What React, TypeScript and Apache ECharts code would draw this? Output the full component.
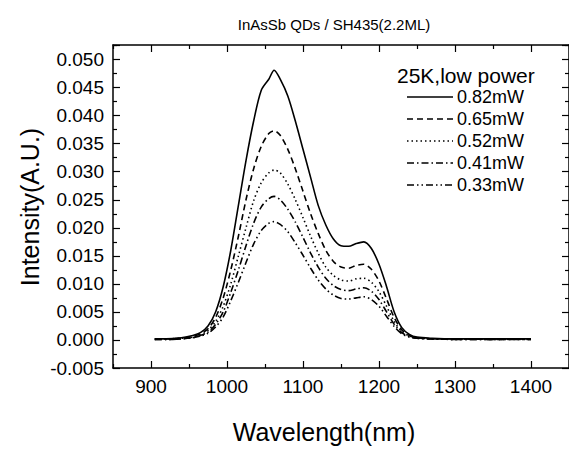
import React, { useEffect, useRef } from "react";
import * as echarts from "echarts";

const wavelengths = [905, 920, 940, 955, 965, 975, 985, 995, 1005, 1015, 1025, 1035, 1045, 1055, 1062, 1070, 1080, 1090, 1100, 1110, 1120, 1130, 1140, 1150, 1160, 1170, 1180, 1190, 1200, 1210, 1220, 1230, 1240, 1250, 1270, 1300, 1350, 1400];

const p082 = [0.0002, 0.0002, 0.0004, 0.0008, 0.0013, 0.0025, 0.005, 0.0095, 0.016, 0.024, 0.032, 0.039, 0.0445, 0.0465, 0.0481, 0.0465, 0.0435, 0.039, 0.034, 0.029, 0.024, 0.0205, 0.018, 0.0168, 0.0167, 0.0172, 0.0175, 0.0163, 0.0135, 0.0095, 0.005, 0.0022, 0.001, 0.0005, 0.0003, 0.0002, 0.0002, 0.0002];
const p065 = [0.0002, 0.0002, 0.0003, 0.0006, 0.0011, 0.002, 0.004, 0.0075, 0.0125, 0.0185, 0.025, 0.0305, 0.0345, 0.0368, 0.0373, 0.0365, 0.034, 0.0305, 0.0265, 0.0225, 0.019, 0.016, 0.014, 0.013, 0.0128, 0.0133, 0.0135, 0.0126, 0.0105, 0.0073, 0.004, 0.0018, 0.0008, 0.0004, 0.0002, 0.0002, 0.0001, 0.0002];
const p052 = [0.0001, 0.0002, 0.0003, 0.0005, 0.0009, 0.0017, 0.0033, 0.006, 0.01, 0.015, 0.02, 0.0248, 0.028, 0.0298, 0.0303, 0.0298, 0.0278, 0.025, 0.0218, 0.0185, 0.0155, 0.013, 0.0115, 0.0107, 0.0105, 0.0109, 0.011, 0.0103, 0.0086, 0.006, 0.0033, 0.0015, 0.0007, 0.0004, 0.0002, 0.0001, 0.0002, 0.0001];
const p041 = [0.0001, 0.0001, 0.0002, 0.0004, 0.0008, 0.0014, 0.0028, 0.005, 0.0085, 0.0125, 0.0168, 0.0208, 0.0237, 0.0252, 0.0256, 0.025, 0.0233, 0.021, 0.0183, 0.0155, 0.013, 0.011, 0.0097, 0.009, 0.0088, 0.0091, 0.0093, 0.0087, 0.0072, 0.005, 0.0028, 0.0013, 0.0006, 0.0003, 0.0002, 0.0001, 0.0001, 0.0001];
const p033 = [0.0001, 0.0001, 0.0002, 0.0004, 0.0007, 0.0012, 0.0023, 0.0041, 0.007, 0.0103, 0.0138, 0.0171, 0.0195, 0.0208, 0.0211, 0.0206, 0.0193, 0.0173, 0.0151, 0.0128, 0.0107, 0.0091, 0.008, 0.0074, 0.0073, 0.0075, 0.0077, 0.0072, 0.006, 0.0042, 0.0024, 0.0011, 0.0005, 0.0003, 0.0002, 0.0001, 0.0001, 0.0001];

const seriesNames = ["0.82mW", "0.65mW", "0.52mW", "0.41mW", "0.33mW"];
const seriesValues = [p082, p065, p052, p041, p033];
const dashes: (string | number[])[] = ["solid", [6, 4], [1.5, 3], [7, 3, 1.5, 3], [7, 3, 1.5, 3, 1.5, 3]];
const dashArrays: (number[] | null)[] = [null, [6, 4], [1.5, 3], [7, 3, 1.5, 3], [7, 3, 1.5, 3, 1.5, 3]];

const xTickLabels = [900, 1000, 1100, 1200, 1300, 1400];

const titleText = "InAsSb QDs / SH435(2.2ML)";
const legendTitle = "25K,low power";
const xTitle = "Wavelength(nm)";
const yTitle = "Intensity(A.U.)";

const FONT = "Liberation Sans, Arial, sans-serif";

export default function App() {
  const ref = useRef<HTMLDivElement>(null);
  useEffect(() => {
    if (!ref.current) return;
    const chart = echarts.init(ref.current, undefined, { renderer: "svg" });
    const lineStyle = { color: "#000", width: 1.5 };
    const tickStyle = { color: "#000", width: 1.2 };
    // x: regular ticks at 850,950,... (short); minor ticks halfway at 900,1000,... (long)
    const xCommon = {
      type: "value",
      min: 850,
      max: 1450,
      interval: 100,
      axisLine: { show: true, onZero: false, lineStyle },
      axisTick: { show: true, inside: true, length: 4, lineStyle: tickStyle },
      minorTick: { show: true, splitNumber: 2, length: 7, lineStyle: tickStyle },
      splitLine: { show: false },
    };
    const yCommon = {
      type: "value",
      min: -0.005,
      max: 0.0526,
      interval: 0.005,
      axisLine: { show: true, onZero: false, lineStyle },
      axisTick: { show: true, inside: true, length: 7, lineStyle: tickStyle },
      minorTick: { show: true, splitNumber: 2, length: 4, lineStyle: tickStyle },
      splitLine: { show: false },
    };
    const legendGraphics: any[] = [];
    seriesNames.forEach((name, i) => {
      const cy = 97 + i * 22;
      legendGraphics.push({
        type: "line",
        shape: { x1: 407, y1: cy, x2: 453, y2: cy },
        style: { stroke: "#000", lineWidth: 1.6, lineDash: dashArrays[i] || undefined },
      });
      legendGraphics.push({
        type: "text",
        x: 457,
        y: cy,
        style: { text: name, font: `18px ${FONT}`, fill: "#000", verticalAlign: "middle" },
      });
    });
    chart.setOption({
      animation: false,
      backgroundColor: "#fff",
      title: {
        text: titleText,
        left: 329,
        top: 12,
        textAlign: "center",
        textStyle: { fontFamily: FONT, fontSize: 15, fontWeight: "normal", color: "#000" },
      },
      grid: { left: 113, top: 45, bottom: 82, right: -3, containLabel: false },
      xAxis: [
        {
          ...xCommon,
          position: "bottom",
          axisLabel: {
            fontFamily: FONT,
            fontSize: 19,
            color: "#000",
            margin: 9,
            customValues: xTickLabels,
            formatter: (v: number) => String(v),
          },
        },
        {
          ...xCommon,
          position: "top",
          axisLabel: { show: false },
        },
      ],
      yAxis: [
        {
          ...yCommon,
          position: "left",
          axisLabel: {
            fontFamily: FONT,
            fontSize: 19,
            color: "#000",
            margin: 9,
            showMaxLabel: false,
            formatter: (v: number) => v.toFixed(3),
          },
        },
        {
          ...yCommon,
          position: "right",
          axisLabel: { show: false },
        },
      ],
      series: seriesNames.map((name, i) => ({
        name,
        type: "line",
        symbol: "none",
        smooth: 0.3,
        data: wavelengths.map((w, j) => [w, seriesValues[i][j]]),
        lineStyle: { color: "#000", width: 1.6, type: dashes[i] },
        itemStyle: { color: "#000" },
      })),
      graphic: [
        {
          type: "text",
          x: 397,
          y: 75,
          style: { text: legendTitle, font: `21px ${FONT}`, fill: "#000", verticalAlign: "middle" },
        },
        ...legendGraphics,
        {
          type: "text",
          x: 324,
          y: 432,
          style: { text: xTitle, font: `25px ${FONT}`, fill: "#000", align: "center", verticalAlign: "middle" },
        },
        {
          type: "text",
          x: 30,
          y: 207,
          rotation: Math.PI / 2,
          style: { text: yTitle, font: `25px ${FONT}`, fill: "#000", align: "center", verticalAlign: "middle" },
        },
      ],
    });
    return () => chart.dispose();
  }, []);
  return <div ref={ref} style={{ position: "absolute", left: 0, top: 0, width: 569, height: 450 }} />;
}
